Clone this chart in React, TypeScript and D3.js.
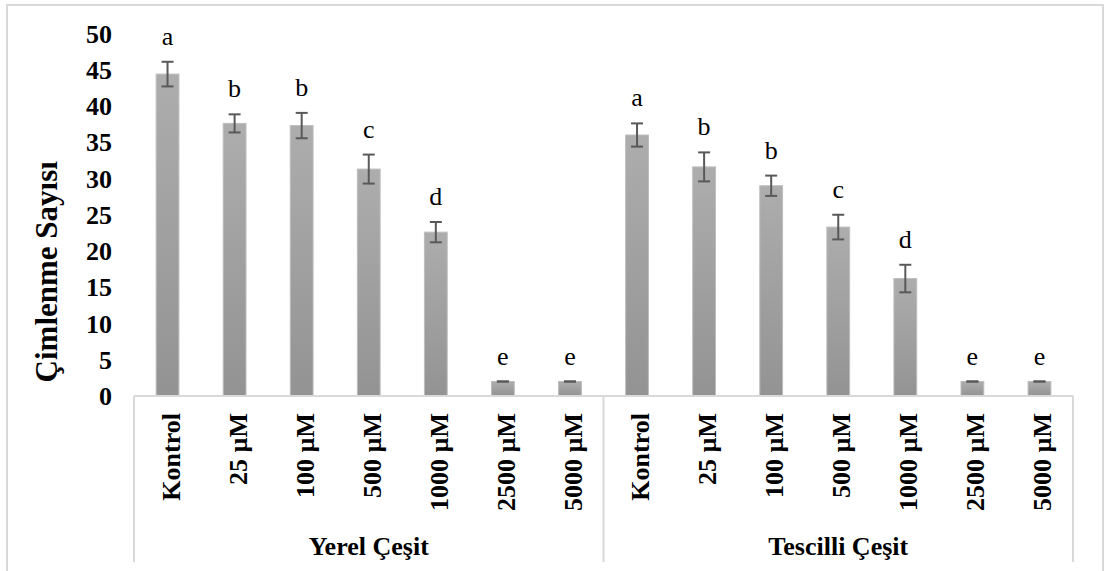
import React from "react";
import * as d3 from "d3";

// Treatments along the x axis (repeated for each cultivar group)
const categories = ["Kontrol", "25 µM", "100 µM", "500 µM", "1000 µM", "2500 µM", "5000 µM"];
const groups = ["Yerel Çeşit", "Tescilli Çeşit"];

// Mean germination counts and standard errors
const yerelMeans = [44.4, 37.6, 37.3, 31.3, 22.6, 2.0, 2.0];
const yerelErrors = [1.7, 1.25, 1.75, 2.0, 1.4, 0, 0];
const tescilliMeans = [36.0, 31.6, 29.0, 23.3, 16.2, 2.0, 2.0];
const tescilliErrors = [1.6, 2.0, 1.4, 1.7, 1.9, 0, 0];

// Significance letters
const yerelLetters = ["a", "b", "b", "c", "d", "e", "e"];
const tescilliLetters = ["a", "b", "b", "c", "d", "e", "e"];

const yTicks = [0, 5, 10, 15, 20, 25, 30, 35, 40, 45, 50];

const W = 1104;
const H = 571;
const FONT = "'Liberation Serif', 'Times New Roman', serif";

export default function App() {
  const plotLeft = 134;
  const plotRight = 1073;
  const plotBottom = 396;
  const plotTop = 33.5;

  const seriesValues = [yerelMeans, tescilliMeans];
  const seriesErrors = [yerelErrors, tescilliErrors];
  const seriesLetters = [yerelLetters, tescilliLetters];

  const rows = groups.flatMap((g, gi) =>
    categories.map((c, ci) => ({
      key: `${gi}-${ci}`,
      group: g,
      cat: c,
      value: seriesValues[gi][ci],
      err: seriesErrors[gi][ci],
      letter: seriesLetters[gi][ci],
    }))
  );

  const x = d3
    .scaleBand<string>()
    .domain(rows.map((r) => r.key))
    .range([plotLeft, plotRight])
    .paddingInner(0)
    .paddingOuter(0);

  const y = d3.scaleLinear().domain([0, 50]).range([plotBottom, plotTop]);

  const bw = x.bandwidth();
  const barW = bw * 0.34;
  const capW = 12;
  const groupBounds = groups.map((_, gi) => [
    x(`${gi}-0`) as number,
    (x(`${gi}-${categories.length - 1}`) as number) + bw,
  ]);

  return (
    <svg
      width={W}
      height={H}
      style={{ position: "absolute", left: 0, top: 0, background: "#fff" }}
      fontFamily={FONT}
    >
      <defs>
        <linearGradient id="barFill" x1="0" y1="0" x2="0" y2="1">
          <stop offset="0%" stopColor="#adadad" />
          <stop offset="100%" stopColor="#939393" />
        </linearGradient>
      </defs>

      {/* chart area border */}
      <rect x={7} y={5} width={1096} height={H + 10} fill="none" stroke="#d9d9d9" strokeWidth={2} />

      {/* y axis title */}
      <text
        transform={`translate(57, ${(plotTop + plotBottom) / 2 + 57}) rotate(-90)`}
        textAnchor="middle"
        fontWeight="bold"
        fontSize={31}
        fill="#000"
      >
        Çimlenme Sayısı
      </text>

      {/* y tick labels */}
      {yTicks.map((t) => (
        <text
          key={t}
          x={112}
          y={y(t)}
          dy="0.35em"
          textAnchor="end"
          fontWeight="bold"
          fontSize={26}
          fill="#000"
        >
          {t}
        </text>
      ))}

      {/* bars */}
      {rows.map((r) => {
        const cx = (x(r.key) as number) + bw / 2;
        return (
          <rect
            key={`bar-${r.key}`}
            x={cx - barW / 2}
            y={y(r.value)}
            width={barW}
            height={plotBottom - y(r.value)}
            fill="url(#barFill)"
            stroke="#bdbdbd"
            strokeWidth={1}
          />
        );
      })}

      {/* x axis line and group separators */}
      <line x1={plotLeft} x2={plotRight} y1={plotBottom} y2={plotBottom} stroke="#d9d9d9" strokeWidth={2} />
      {[groupBounds[0][0], groupBounds[1][0], groupBounds[1][1]].map((gx, i) => (
        <line key={`sep-${i}`} x1={gx} x2={gx} y1={plotBottom} y2={562} stroke="#d9d9d9" strokeWidth={2} />
      ))}

      {/* error bars */}
      {rows.map((r) => {
        const cx = (x(r.key) as number) + bw / 2;
        const yHi = y(r.value + r.err);
        const yLo = y(r.value - r.err);
        return (
          <g key={`err-${r.key}`} stroke="#595959" strokeWidth={2}>
            <line x1={cx} x2={cx} y1={yHi} y2={yLo} />
            <line x1={cx - capW / 2} x2={cx + capW / 2} y1={yHi} y2={yHi} />
            <line x1={cx - capW / 2} x2={cx + capW / 2} y1={yLo} y2={yLo} />
          </g>
        );
      })}

      {/* significance letters */}
      {rows.map((r) => {
        const cx = (x(r.key) as number) + bw / 2;
        return (
          <text
            key={`let-${r.key}`}
            x={cx}
            y={y(r.value + r.err) - 17}
            textAnchor="middle"
            fontSize={26}
            fill="#000"
          >
            {r.letter}
          </text>
        );
      })}

      {/* category labels */}
      {rows.map((r) => {
        const cx = (x(r.key) as number) + bw / 2;
        return (
          <text
            key={`cat-${r.key}`}
            transform={`translate(${cx + 12}, 413) rotate(-90)`}
            textAnchor="end"
            fontWeight="bold"
            fontSize={26}
            fill="#000"
          >
            {r.cat}
          </text>
        );
      })}

      {/* group labels */}
      {groups.map((g, gi) => (
        <text
          key={`grp-${gi}`}
          x={(groupBounds[gi][0] + groupBounds[gi][1]) / 2}
          y={555}
          textAnchor="middle"
          fontWeight="bold"
          fontSize={26}
          fill="#000"
        >
          {g}
        </text>
      ))}
    </svg>
  );
}
